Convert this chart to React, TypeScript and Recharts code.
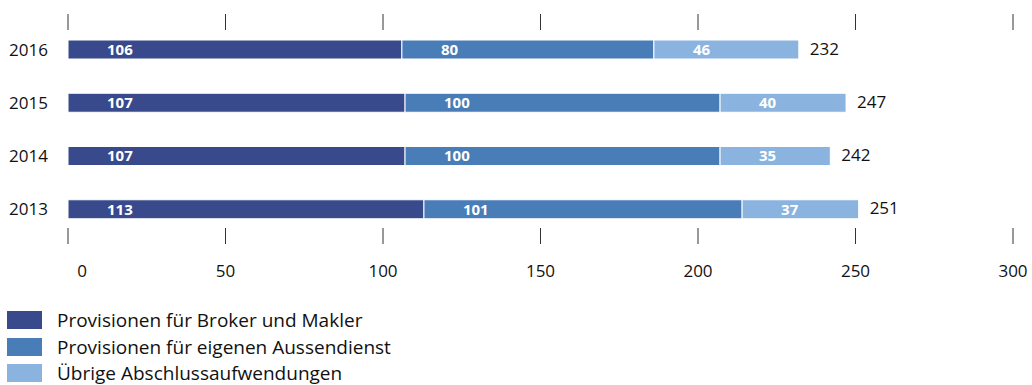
import React from 'react';
import { BarChart, Bar, XAxis, YAxis, LabelList } from 'recharts';

// Abschlussaufwendungen in Mio. CHF, je Jahr
const years = ['2016', '2015', '2014', '2013'];
const brokerMakler = [106, 107, 107, 113];
const eigenerAussendienst = [80, 100, 100, 101];
const uebrigeAufwendungen = [46, 40, 35, 37];
const totals = [232, 247, 242, 251];
const xTicks = [0, 50, 100, 150, 200, 250, 300];

const seriesNames = [
  'Provisionen für Broker und Makler',
  'Provisionen für eigenen Aussendienst',
  'Übrige Abschlussaufwendungen',
];
const colors = ['#394a8c', '#487db8', '#8ab3e0'];

const FONT = '"Open Sans", "Noto Sans", sans-serif';
const TEXT = '#111';

const data = years.map((year, i) => ({
  year,
  broker: brokerMakler[i],
  aussen: eigenerAussendienst[i],
  uebrige: uebrigeAufwendungen[i],
  total: totals[i],
}));

const InnerLabel = (props: any) => {
  const { x, y, height, value } = props;
  return (
    <text
      x={Number(x) + 39}
      y={Number(y) + Number(height) / 2}
      dy="0.36em"
      fill="#fff"
      fontSize={15}
      fontWeight={700}
      fontFamily={FONT}
    >
      {value}
    </text>
  );
};

const TotalLabel = (props: any) => {
  const { x, y, width, height, value } = props;
  return (
    <text
      x={Number(x) + Number(width) + 11}
      y={Number(y) + Number(height) / 2}
      dy="0.3em"
      fill={TEXT}
      fontSize={17}
      fontFamily={FONT}
    >
      {value}
    </text>
  );
};

const BottomTick = (props: any) => {
  const { x, y, payload } = props;
  const shift = payload.value === 0 ? 14 : 0;
  return (
    <text
      x={Number(x) + shift}
      y={y}
      dy="0.71em"
      textAnchor="middle"
      fill={TEXT}
      fontSize={17}
      fontFamily={FONT}
    >
      {payload.value}
    </text>
  );
};

// tick marks only, no text
const NoText = () => <g />;

const YearTick = (props: any) => {
  const { x, y, payload } = props;
  return (
    <text
      x={x}
      y={y}
      dy="0.36em"
      textAnchor="end"
      fill={TEXT}
      fontSize={17}
      fontFamily={FONT}
    >
      {payload.value}
    </text>
  );
};

const LegendBlock = () => (
  <div
    style={{
      position: 'absolute',
      left: 7,
      top: 307,
      fontFamily: FONT,
      fontSize: 19,
      color: TEXT,
    }}
  >
    {seriesNames.map((name, i) => (
      <div key={name} style={{ display: 'flex', alignItems: 'center', height: 26.5 }}>
        <span
          style={{
            display: 'inline-block',
            width: 35,
            height: 18,
            background: colors[i],
            marginRight: 15,
          }}
        />
        <span style={{ lineHeight: '18px' }}>{name}</span>
      </div>
    ))}
  </div>
);

const tickStroke = { stroke: '#333', strokeWidth: 1 };

export default function App() {
  return (
    <div style={{ position: 'absolute', left: 0, top: 0, width: 1032, height: 385, background: '#fff' }}>
      <BarChart
        width={1032}
        height={300}
        data={data}
        layout="vertical"
        margin={{ top: 14, right: 19, left: 0, bottom: 12 }}
      >
        <XAxis
          xAxisId="top"
          type="number"
          dataKey="total"
          orientation="top"
          domain={[0, 300]}
          allowDataOverflow
          ticks={xTicks}
          height={16}
          axisLine={false}
          tick={<NoText />}
          tickSize={16}
          tickLine={tickStroke}
        />
        <XAxis
          xAxisId="main"
          type="number"
          orientation="bottom"
          domain={[0, 300]}
          ticks={xTicks}
          height={60}
          axisLine={false}
          tickLine={tickStroke}
          tickSize={16}
          tickMargin={21}
          tick={<BottomTick />}
        />
        <YAxis
          type="category"
          dataKey="year"
          width={68}
          axisLine={false}
          tickLine={false}
          tickSize={0}
          tickMargin={20}
          padding={{ top: -7, bottom: -8 }}
          tick={<YearTick />}
        />
        <Bar xAxisId="main" dataKey="broker" stackId="a" fill={colors[0]} stroke="#fff" strokeWidth={1} barSize={19} isAnimationActive={false}>
          <LabelList dataKey="broker" content={<InnerLabel />} />
        </Bar>
        <Bar xAxisId="main" dataKey="aussen" stackId="a" fill={colors[1]} stroke="#fff" strokeWidth={1} barSize={19} isAnimationActive={false}>
          <LabelList dataKey="aussen" content={<InnerLabel />} />
        </Bar>
        <Bar xAxisId="main" dataKey="uebrige" stackId="a" fill={colors[2]} stroke="#fff" strokeWidth={1} barSize={19} isAnimationActive={false}>
          <LabelList dataKey="uebrige" content={<InnerLabel />} />
          <LabelList dataKey="total" content={<TotalLabel />} />
        </Bar>
      </BarChart>
      <LegendBlock />
    </div>
  );
}
